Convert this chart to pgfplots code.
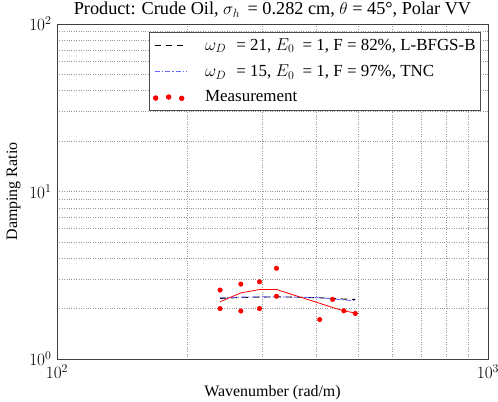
\documentclass[border=0pt]{standalone}
\usepackage{pgfplots}
\pgfplotsset{compat=1.18}
\usepackage{fontspec}
\setmainfont{Liberation Serif}

\pgfplotstableread{
k      d
239    2.58
239    2.00
267    2.80
267    1.935
295    2.89
295    2.00
323    3.48
323    2.37
407    1.72
436    2.27
463    1.94
492    1.87
}\measured

\begin{document}
\fontsize{16}{19}\selectfont
\begin{tikzpicture}
\begin{axis}[
  scale only axis, width=431bp, height=335bp,
  xmode=log, ymode=log,
  xmin=100, xmax=1000, ymin=1, ymax=100,
  xtick={100,1000}, ytick={1,10,100},
  minor xtick={200,300,400,500,600,700,800,900},
  minor ytick={2,3,4,5,6,7,8,9,20,30,40,50,60,70,80,90},
  grid=both,
  major grid style={black!40, dotted},
  minor grid style={black!40, dotted},
  tick style={draw=none},
  tick label style={font=\fontsize{17}{20}\selectfont},
  axis line style={black!75, line width=0.9pt},
  title={Product: Crude Oil, $\sigma_h$\, = 0.282 cm, $\theta$ = 45\textdegree, Polar VV},
  title style={yshift=-5bp, font=\fontsize{18.3}{21}\selectfont},
  xlabel={Wavenumber (rad/m)},
  ylabel={Damping Ratio},
  xlabel style={yshift=4bp},
  ylabel style={yshift=-2bp},
  legend image code/.code={\draw[#1] (0bp,0bp) -- (32bp,0bp);},
  legend style={at={(0.984,0.976)}, anchor=north east, draw=black!70,
    line width=1pt, font=\fontsize{17}{19}\selectfont, row sep=8bp,
    inner xsep=3bp, inner ysep=4bp, cells={anchor=west},
    /tikz/every odd column/.append style={column sep=16bp}},
  legend cell align=left,
]
\addplot[black, line width=0.9pt, dash pattern=on 6bp off 5bp] coordinates {
  (239,2.30) (267,2.33) (295,2.34) (323,2.35) (360,2.34) (407,2.32) (436,2.30) (463,2.28) (492,2.27)};
\addlegendentry{$\omega_D$\hspace{6bp} = 21, $E_0$\hspace{4bp} = 1, F = 82\%, L-BFGS-B}
\addplot[blue!60, line width=0.9pt, dash pattern=on 5bp off 2bp on 1.5bp off 2bp] coordinates {
  (239,2.32) (267,2.34) (295,2.35) (323,2.35) (360,2.34) (407,2.32) (436,2.29) (463,2.25) (492,2.23)};
\addlegendentry{$\omega_D$\hspace{6bp} = 15, $E_0$\hspace{4bp} = 1, F = 97\%, TNC}
\addplot[only marks, mark=*, mark size=2.3bp, red,
  legend image code/.code={
    \fill[red] (1bp,-0.5bp) circle (2.2bp);
    \fill[red] (14bp,0.5bp) circle (2.2bp);
    \fill[red] (27bp,-0.8bp) circle (2.2bp);}]
  table[x=k, y=d] {\measured};
\addlegendentry{Measurement}
\addplot[red, line width=0.8pt, forget plot] coordinates {
  (239,2.20) (267,2.48) (295,2.60) (323,2.60) (407,2.15) (436,2.03) (463,1.94) (492,1.88)};
\end{axis}
\pgfresetboundingbox
\path[use as bounding box] ([shift={(-57bp,-43bp)}]current axis.south west)
  rectangle ([shift={(10bp,24bp)}]current axis.north east);
\end{tikzpicture}
\end{document}
